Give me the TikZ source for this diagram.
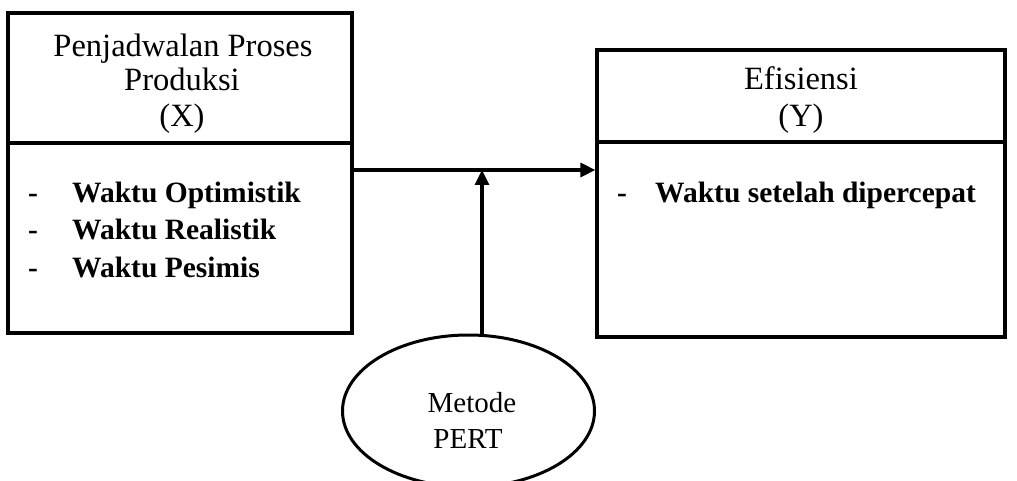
\documentclass[tikz,border=0pt]{standalone}
\usepackage{fontspec}
\setmainfont{Liberation Serif}
\usetikzlibrary{shapes.geometric,arrows.meta}
\tikzset{
  box/.style={draw,line width=3.2pt,minimum width=#1,inner sep=0pt},
  head/.style={anchor=base,font=\fontsize{32.5}{36}\selectfont,inner sep=0pt},
  item/.style={anchor=base west,font=\fontsize{29.5}{36}\selectfont\bfseries,inner sep=0pt},
  dashmark/.style={anchor=base,font=\fontsize{29.5}{36}\selectfont\bfseries,inner sep=0pt},
  conn/.style={line width=3.2pt,-{Triangle[length=15pt,width=14pt]}},
  pertstyle/.style={draw,ellipse,line width=3pt,minimum width=252pt,minimum height=152pt,inner sep=0pt}
}
\begin{document}
\begin{tikzpicture}[x=1pt,y=-1pt]
\useasboundingbox (0,0) rectangle (1017,481);
% boxes
\node[box=344pt,minimum height=320pt] (X) at (180,173) {};
\node[box=408pt,minimum height=287pt] (Y) at (801,193.5) {};
\draw[line width=3.2pt] (X.west |- 0,143) -- (X.east |- 0,143);
\draw[line width=3.2pt] (Y.west |- 0,142) -- (Y.east |- 0,142);
% left header
\node[head] (x1) at (183,57) {Penjadwalan Proses};
\node[head] (x2) at (182,91) {Produksi};
\node[head] (x3) at (182,127) {(X)};
% left items
\node[dashmark] (d1) at (33,203) {-};
\node[item] (i1) at (72,203) {Waktu Optimistik};
\node[dashmark] (d2) at (33,240) {-};
\node[item] (i2) at (72,240) {Waktu Realistik};
\node[dashmark] (d3) at (33,277) {-};
\node[item] (i3) at (72,277) {Waktu Pesimis};
% right header
\node[head] (y1) at (801,90) {Efisiensi};
\node[head] (y2) at (801,127) {(Y)};
% right item
\node[dashmark] (d4) at (622,203) {-};
\node[item] (i4) at (655,203) {Waktu setelah dipercepat};
% ellipse
\node[pertstyle] (pert) at (468.5,411) {};
\node[head,font=\fontsize{29}{36}\selectfont] (p1) at (472,412) {Metode};
\node[head,font=\fontsize{29}{36}\selectfont] (p2) at (468,448) {PERT};
% connectors
\coordinate (j) at (482,170);
\draw[conn] (X.east |- j) -- (Y.west |- j);
\draw[conn] ([xshift=13.5pt]pert.north) -- (j);
\end{tikzpicture}
\end{document}
